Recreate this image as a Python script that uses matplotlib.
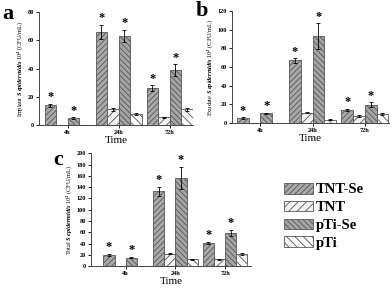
import matplotlib
matplotlib.use("Agg")
import matplotlib.pyplot as plt
import numpy as np

plt.rcParams['font.family'] = ['Liberation Serif', 'DejaVu Serif']
plt.rcParams['font.weight'] = 'bold'
plt.rcParams['mathtext.fontset'] = 'custom'
plt.rcParams['mathtext.it'] = 'Liberation Serif:italic:bold'
plt.rcParams['mathtext.rm'] = 'Liberation Serif:bold'
plt.rcParams['hatch.linewidth'] = 0.6

times = ["4h", "24h", "72h"]
groups = ["TNT-Se", "TNT", "pTi-Se", "pTi"]

# panel a : implant
imp_vals = {"TNT-Se": [14, 66, 26], "TNT": [0, 11, 5.5], "pTi-Se": [5, 63, 39], "pTi": [0, 8, 11]}
imp_err = {"TNT-Se": [1, 5, 2], "TNT": [0, 0.8, 0.5], "pTi-Se": [0.6, 4.5, 4], "pTi": [0, 0.6, 0.8]}
# panel b : exudate
exu_vals = {"TNT-Se": [5, 67, 14], "TNT": [0, 11, 7.5], "pTi-Se": [10.5, 93, 19.5], "pTi": [0, 3.5, 10]}
exu_err = {"TNT-Se": [1, 2.5, 1], "TNT": [0, 0.8, 1], "pTi-Se": [0.6, 14, 2.5], "pTi": [0, 0.5, 1]}
# panel c : total
tot_vals = {"TNT-Se": [20, 133, 41], "TNT": [0, 22, 12], "pTi-Se": [15, 156, 59], "pTi": [0, 12, 22]}
tot_err = {"TNT-Se": [2, 8, 2.5], "TNT": [0, 1, 0.8], "pTi-Se": [1.2, 20, 5], "pTi": [0, 1, 1.5]}

star_groups = ["TNT-Se", "pTi-Se"]

styles = {
    "TNT-Se": dict(facecolor="#a9a9a9", hatch="//////"),
    "TNT": dict(facecolor="#f2f2f2", hatch="////"),
    "pTi-Se": dict(facecolor="#a4a4a4", hatch="\\\\\\\\\\\\"),
    "pTi": dict(facecolor="#fafafa", hatch="\\\\\\\\"),
}

fig = plt.figure(figsize=(3.92, 2.88), dpi=100)

def panel(rect, vals, errs, ymax, ystep, ylabel, letter, lpos, xlim):
    ax = fig.add_axes(rect)
    x = np.arange(len(times))
    w = 0.225
    for i, g in enumerate(groups):
        pos = x + (i - 1.5) * w
        ax.bar(pos, vals[g], w, edgecolor="#555555", linewidth=0.6, label=g, **styles[g])
        ax.errorbar(pos, vals[g], yerr=errs[g], fmt="none", ecolor="black",
                    elinewidth=0.6, capsize=1.2, capthick=0.6)
        if g in star_groups:
            for p, v, e in zip(pos, vals[g], errs[g]):
                ax.text(p, v + e + ymax * 0.005, "*", ha="center", va="bottom", fontsize=9)
    ax.set_xlim(*xlim)
    ax.set_ylim(0, ymax)
    ax.set_yticks(np.arange(0, ymax + 1, ystep))
    ax.set_xticks(x)
    ax.set_xticklabels(times)
    ax.tick_params(labelsize=4.5, length=2, width=0.6, pad=1.5)
    for s in ["top", "right"]:
        ax.spines[s].set_visible(False)
    for s in ["left", "bottom"]:
        ax.spines[s].set_linewidth(0.7)
        ax.spines[s].set_color("#444444")
    ax.set_xlabel("Time", fontsize=8, labelpad=1)
    ax.set_ylabel(ylabel, fontsize=4.5, labelpad=2)
    fig.text(lpos[0], lpos[1], letter, fontsize=16, fontweight="bold", ha="left", va="top")
    return ax

panel([0.0995, 0.566, 0.393, 0.392], imp_vals, imp_err, 80, 20,
      r"Implant $\mathit{S\ epidermidis}$ 10$^2$ (CFU/mL)", "a", (0.005, 0.985), (-0.56, 2.46))
panel([0.592, 0.573, 0.40, 0.389], exu_vals, exu_err, 120, 20,
      r"Exudate $\mathit{S\ epidermidis}$ 10$^2$ (CFU/mL)", "b", (0.5, 0.998), (-0.54, 2.46))
ax = panel([0.232, 0.076, 0.408, 0.392], tot_vals, tot_err, 200, 20,
      r"Total $\mathit{S\ epidermidis}$ 10$^2$ (CFU/mL)", "c", (0.135, 0.48), (-0.7, 2.52))

h, l = ax.get_legend_handles_labels()
fig.legend(h, l, loc="upper left", bbox_to_anchor=(0.705, 0.39), frameon=False,
           fontsize=10.5, handlelength=2.0, handleheight=0.75, labelspacing=0.3,
           handletextpad=0.2, borderpad=0)

fig.savefig("out.png", dpi=100)
